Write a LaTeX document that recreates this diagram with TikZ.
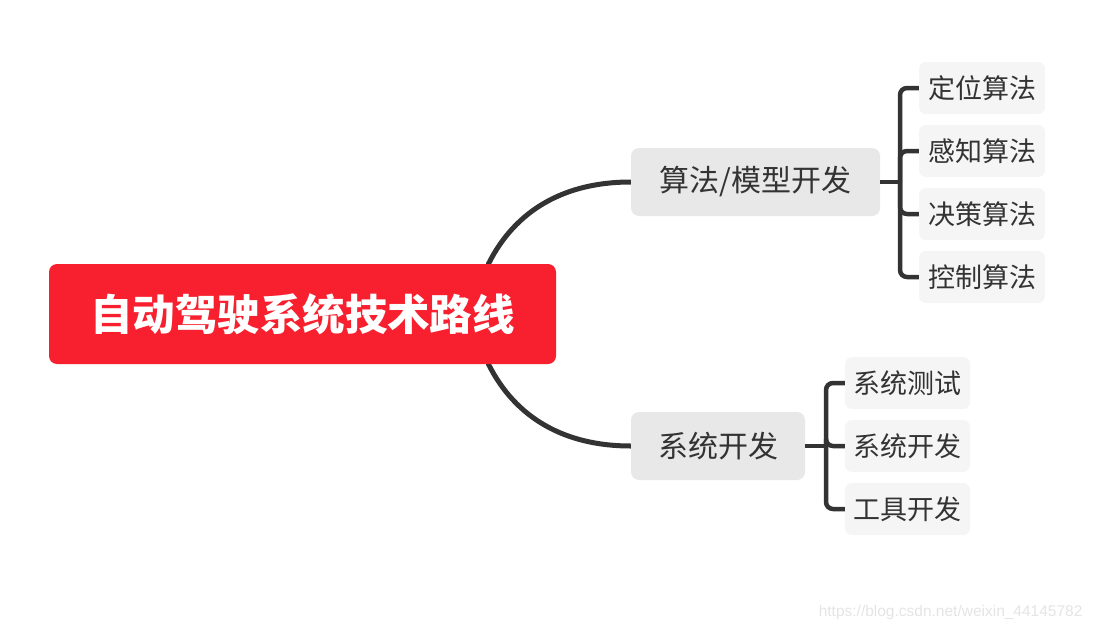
\documentclass[tikz,border=0pt]{standalone}
\usepackage{fontspec}
\setmainfont{Liberation Sans}
\newfontfamily\cjk{Noto Sans CJK SC}
\usetikzlibrary{calc,backgrounds}
\definecolor{rootred}{HTML}{F8202E}
\definecolor{topicgray}{HTML}{E8E8E8}
\definecolor{subgray}{HTML}{F5F5F5}
\definecolor{linegray}{HTML}{333333}
\definecolor{wmgray}{HTML}{E4E4E4}
\tikzset{
  rootbox/.style={fill=rootred, rounded corners=8pt, minimum width=507pt, minimum height=100pt, inner sep=0pt, text=white, font=\cjk\bfseries\fontsize{42.5}{48}\selectfont},
  topicbox/.style={fill=topicgray, rounded corners=8pt, minimum height=68pt, inner sep=0pt, text=linegray, font=\cjk\fontsize{30}{34}\selectfont},
  subbox/.style={fill=subgray, rounded corners=7pt, minimum width=126pt, minimum height=52pt, inner sep=0pt, text=linegray, font=\cjk\fontsize{27}{30}\selectfont},
  mainline/.style={draw=linegray, line width=5pt},
  brline/.style={draw=linegray, line width=4.5pt, rounded corners=7pt},
}
\begin{document}
\begin{tikzpicture}[x=1pt,y=-1pt]
\useasboundingbox (0,0) rectangle (1093,632);
\node[rootbox] (root) at (302.5,314) {自动驾驶系统技术路线};
\node[topicbox, minimum width=249pt] (alg) at (755.5,182) {算法/模型开发};
\node[topicbox, minimum width=174pt] (sys) at (718,446) {系统开发};
\node[subbox] (a1) at (982,88) {定位算法};
\node[subbox] (a2) at (982,151) {感知算法};
\node[subbox] (a3) at (982,214) {决策算法};
\node[subbox] (a4) at (982,277) {控制算法};
\node[subbox, minimum width=125pt] (s1) at (907.5,383) {系统测试};
\node[subbox, minimum width=125pt] (s2) at (907.5,446) {系统开发};
\node[subbox, minimum width=125pt] (s3) at (907.5,509) {工具开发};
\coordinate (ja) at (900,182);
\coordinate (js) at (826,446);
\coordinate (rt) at ($(root.north)+(186,0)$);
\coordinate (rb) at ($(root.south)+(186,0)$);
\begin{scope}[on background layer]
\draw[mainline] ($(rt)+(0,6)$) -- (rt) .. controls +(27,-54) and +(-66,0) .. (alg.west);
\draw[mainline] ($(rb)+(0,-6)$) -- (rb) .. controls +(27,54) and +(-66,0) .. (sys.west);
\end{scope}
\draw[brline] (alg.east) -- (ja);
\foreach \c in {a1,a2,a3,a4} \draw[brline] (\c.west) -| (ja);
\draw[brline] (sys.east) -- (js);
\foreach \c in {s1,s2,s3} \draw[brline] (\c.west) -| (js);
\node[anchor=east, text=wmgray, font=\fontsize{15.5}{18}\selectfont] (wm) at (1086,612) {https://blog.csdn.net/weixin\_44145782};
\end{tikzpicture}
\end{document}
